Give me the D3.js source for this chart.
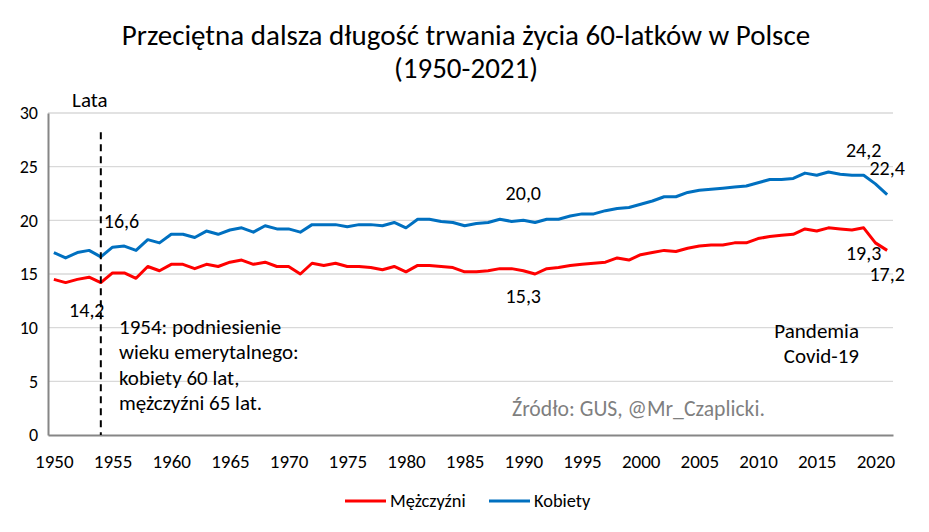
<!DOCTYPE html>
<html>
<head>
<meta charset="utf-8">
<script src="https://cdn.jsdelivr.net/npm/d3@7"></script>
<style>
  body { margin: 0; background: #fff; }
  text { font-family: Carlito, Lato, "Open Sans", sans-serif; }
</style>
</head>
<body>
<svg id="chart" width="929" height="532"></svg>
<script>
const years = d3.range(1950, 2022);
const yTicks = [0, 5, 10, 15, 20, 25, 30];
const xTickYears = [1950,1955,1960,1965,1970,1975,1980,1985,1990,1995,2000,2005,2010,2015,2020];
const seriesNames = ["Mężczyźni", "Kobiety"];
const men = [
  14.5,14.2,14.5,14.7,14.2,15.1,15.1,14.6,15.7,15.3,
  15.9,15.9,15.5,15.9,15.7,16.1,16.3,15.9,16.1,15.7,
  15.7,15.0,16.0,15.8,16.0,15.7,15.7,15.6,15.4,15.7,
  15.2,15.8,15.8,15.7,15.6,15.2,15.2,15.3,15.5,15.5,
  15.3,15.0,15.5,15.6,15.8,15.9,16.0,16.1,16.5,16.3,
  16.8,17.0,17.2,17.1,17.4,17.6,17.7,17.7,17.9,17.9,
  18.3,18.5,18.6,18.7,19.2,19.0,19.3,19.2,19.1,19.3,
  17.9,17.2
];
const women = [
  17.0,16.5,17.0,17.2,16.6,17.5,17.6,17.2,18.2,17.9,
  18.7,18.7,18.4,19.0,18.7,19.1,19.3,18.9,19.5,19.2,
  19.2,18.9,19.6,19.6,19.6,19.4,19.6,19.6,19.5,19.8,
  19.3,20.1,20.1,19.9,19.8,19.5,19.7,19.8,20.1,19.9,
  20.0,19.8,20.1,20.1,20.4,20.6,20.6,20.9,21.1,21.2,
  21.5,21.8,22.2,22.2,22.6,22.8,22.9,23.0,23.1,23.2,
  23.5,23.8,23.8,23.9,24.4,24.2,24.5,24.3,24.2,24.2,
  23.4,22.4
];
const valueLabels = [
  {series: 1, year: 1954, text: "16,6", dx: 3, dy: -29, anchor: "start"},
  {series: 0, year: 1954, text: "14,2", dx: -14, dy: 34, anchor: "middle"},
  {series: 1, year: 1990, text: "20,0", dx: 0, dy: -20, anchor: "middle"},
  {series: 0, year: 1990, text: "15,3", dx: 0, dy: 32, anchor: "middle"},
  {series: 1, year: 2019, text: "24,2", dx: 0, dy: -18, anchor: "middle"},
  {series: 1, year: 2021, text: "22,4", dx: 0, dy: -20, anchor: "middle"},
  {series: 0, year: 2019, text: "19,3", dx: 0, dy: 32, anchor: "middle"},
  {series: 0, year: 2021, text: "17,2", dx: 0, dy: 31, anchor: "middle"}
];
const noteLines = ["1954: podniesienie", "wieku emerytalnego:", "kobiety 60 lat,", "mężczyźni 65 lat."];
const covidLines = ["Pandemia", "Covid-19"];

const colors = ["#ff0000", "#0070c0"];
const svg = d3.select("#chart");

const mLeft = 48, mRight = 893, mTop = 113, mBottom = 435;
const x = d3.scalePoint().domain(years).range([mLeft, mRight]).padding(0.5);
const y = d3.scaleLinear().domain([0, 30]).range([mBottom, mTop]);

// title
svg.append("text").attr("x", 466).attr("y", 45).attr("text-anchor", "middle")
  .attr("font-size", 29).attr("fill", "#000")
  .text("Przeciętna dalsza długość trwania życia 60-latków w Polsce");
svg.append("text").attr("x", 466).attr("y", 78).attr("text-anchor", "middle")
  .attr("font-size", 29).attr("fill", "#000").text("(1950-2021)");

// gridlines
svg.append("g").selectAll("line").data(yTicks.filter(d => d > 0)).join("line")
  .attr("x1", mLeft).attr("x2", mRight)
  .attr("y1", d => y(d)).attr("y2", d => y(d))
  .attr("stroke", "#d9d9d9").attr("stroke-width", 1.3);

// y axis
const yAxis = svg.append("g").attr("transform", `translate(${mLeft},0)`)
  .call(d3.axisLeft(y).tickValues(yTicks).tickSize(0).tickPadding(10));
yAxis.select(".domain").attr("stroke", "#868686").attr("stroke-width", 2);
yAxis.selectAll("text").attr("font-size", 18).attr("fill", "#000")
  .style("font-family", "Carlito, Lato, sans-serif");

// x axis
const xAxis = svg.append("g").attr("transform", `translate(0,${mBottom})`)
  .call(d3.axisBottom(x).tickValues(xTickYears).tickSize(0).tickPadding(20));
xAxis.select(".domain").attr("stroke", "#868686").attr("stroke-width", 2.2);
xAxis.selectAll("text").attr("font-size", 19).attr("fill", "#000")
  .style("font-family", "Carlito, Lato, sans-serif");

// lines
const line = d3.line().x((d, i) => x(years[i])).y(d => y(d));
[men, women].forEach((s, k) => {
  svg.append("path").datum(s).attr("d", line)
    .attr("fill", "none").attr("stroke", colors[k]).attr("stroke-width", 3)
    .attr("stroke-linejoin", "round");
});

// dashed 1954 line
svg.append("line").attr("x1", x(1954)).attr("x2", x(1954))
  .attr("y1", y(28.2)).attr("y2", mBottom)
  .attr("stroke", "#000").attr("stroke-width", 2).attr("stroke-dasharray", "7,5");

svg.append("text").attr("x", x(1954) - 11).attr("y", 107).attr("text-anchor", "middle")
  .attr("font-size", 21).text("Lata");

// value labels
const data = [men, women];
svg.append("g").selectAll("text").data(valueLabels).join("text")
  .attr("x", d => x(d.year) + d.dx)
  .attr("y", d => y(data[d.series][d.year - 1950]) + d.dy)
  .attr("text-anchor", d => d.anchor)
  .attr("font-size", 20).attr("fill", "#000").text(d => d.text);

// note
svg.append("g").selectAll("text").data(noteLines).join("text")
  .attr("x", 119).attr("y", (d, i) => 334 + i * 25.3)
  .attr("font-size", 21).attr("fill", "#000").text(d => d);

svg.append("g").selectAll("text").data(covidLines).join("text")
  .attr("x", 859).attr("y", (d, i) => 338 + i * 24.5).attr("text-anchor", "end")
  .attr("font-size", 21).attr("fill", "#000").text(d => d);

svg.append("text").attr("x", 512).attr("y", 416)
  .attr("font-size", 21.7).attr("fill", "#7f7f7f").text("Źródło: GUS, @Mr_Czaplicki.");

// legend
const legend = svg.append("g");
const legendX = [345, 489];
seriesNames.forEach((n, k) => {
  legend.append("line").attr("x1", legendX[k]).attr("x2", legendX[k] + 41)
    .attr("y1", 501).attr("y2", 501).attr("stroke", colors[k]).attr("stroke-width", 3);
  legend.append("text").attr("x", legendX[k] + 45).attr("y", 507)
    .attr("font-size", 18.4).attr("fill", "#000").text(n);
});
</script>
</body>
</html>
